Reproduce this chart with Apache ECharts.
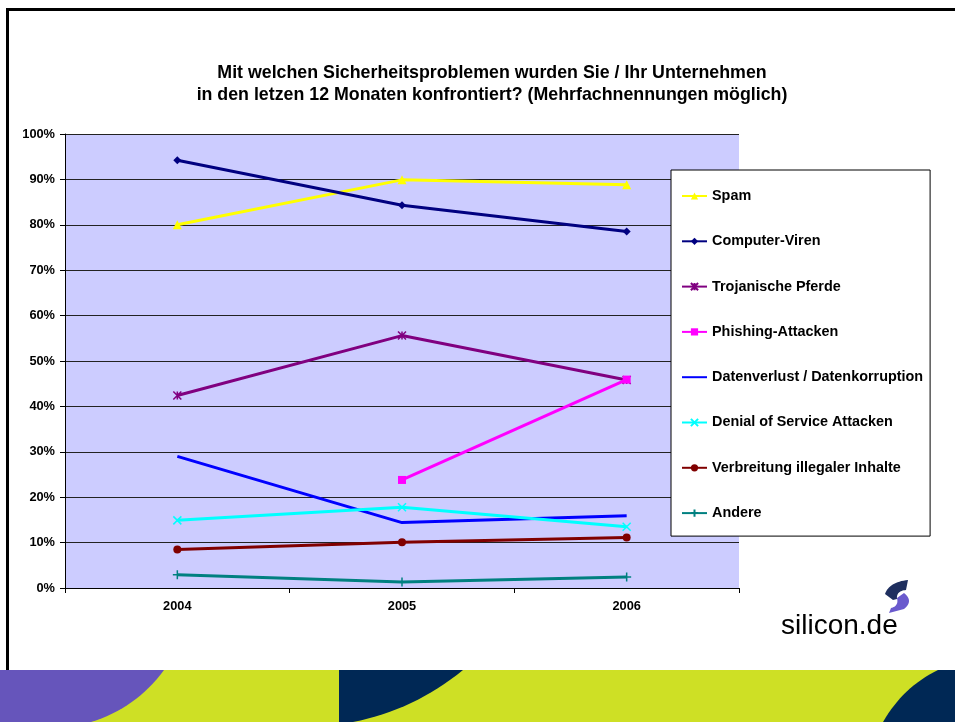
<!DOCTYPE html>
<html>
<head>
<meta charset="utf-8">
<script src="https://cdn.jsdelivr.net/npm/echarts@6/dist/echarts.min.js"></script>
<style>
  html, body { margin: 0; padding: 0; background: #fff; }
  #chart { width: 955px; height: 722px; }
</style>
</head>
<body>
<div id="chart"></div>
<script>
// Jahre und Werte (in %)
const years = ['2004', '2005', '2006']
const spam = [80, 89.9, 88.8]
const viren = [94.2, 84.3, 78.5]
const trojaner = [42.4, 55.6, 45.8]
const phishing = ['-', 23.8, 45.9]
const datenverlust = [29.0, 14.4, 15.9]
const dos = [14.9, 17.8, 13.5]
const verbreitung = [8.5, 10.1, 11.1]
const andere = [2.9, 1.3, 2.4]
const yTicks = [0, 10, 20, 30, 40, 50, 60, 70, 80, 90, 100]

const chart = echarts.init(document.getElementById('chart'))

// eigene Symbole
const xSym = 'path://M0,0L10,10M10,0L0,10'
const plusSym = 'path://M5,0L5,10M0,5L10,5'
const starSym = 'path://M0,0L10,10M10,0L0,10M5,0L5,10'

const mkSeries = (name, data, color, symbol, size, strokeOnly) => ({
  name,
  type: 'line',
  data,
  symbol,
  symbolSize: size,
  showSymbol: symbol !== 'none',
  connectNulls: false,
  lineStyle: { color, width: 3 },
  itemStyle: strokeOnly
    ? { color: 'transparent', borderColor: color, borderWidth: 1.5 }
    : { color, borderColor: color, borderWidth: 0 },
  emphasis: { disabled: true },
  z: 3,
})

// quadratische Kurve als Punktliste (nur Deko)
const quad = (p0, c, p1, n = 16) => {
  const pts = []
  for (let i = 0; i <= n; i++) {
    const t = i / n
    const a = (1 - t) * (1 - t), b = 2 * (1 - t) * t, d = t * t
    pts.push([a * p0[0] + b * c[0] + d * p1[0], a * p0[1] + b * c[1] + d * p1[1]])
  }
  return pts
}
const poly = (points, fill) => ({ type: 'polygon', silent: true, shape: { points }, style: { fill } })

const option = {
  animation: false,
  backgroundColor: '#fff',
  textStyle: { fontFamily: 'Arial, "Liberation Sans", sans-serif' },
  title: {
    text: 'Mit welchen Sicherheitsproblemen wurden Sie / Ihr Unternehmen\nin den letzen 12 Monaten konfrontiert? (Mehrfachnennungen möglich)',
    left: 487,
    top: 57,
    textAlign: 'center',
    textStyle: { fontSize: 17.8, fontWeight: 'bold', color: '#000', lineHeight: 22 },
  },
  grid: {
    left: 65,
    right: 216,
    top: 134,
    bottom: 134,
    show: true,
    backgroundColor: '#CCCCFF',
    borderWidth: 0,
  },
  legend: {
    orient: 'vertical',
    left: 671,
    top: 170,
    padding: [19, 7, 16, 10],
    itemWidth: 25,
    itemHeight: 9,
    itemGap: 31.3,
    backgroundColor: '#fff',
    borderColor: '#000',
    borderWidth: 1,
    textStyle: { fontSize: 14.4, fontWeight: 'bold', color: '#000', lineHeight: 14 },
    data: [
      'Spam', 'Computer-Viren', 'Trojanische Pferde', 'Phishing-Attacken',
      { name: 'Datenverlust / Datenkorruption', itemStyle: { opacity: 0 } },
      'Denial of Service Attacken', 'Verbreitung illegaler Inhalte', 'Andere',
    ],
  },
  xAxis: {
    type: 'category',
    data: years,
    boundaryGap: true,
    axisLine: { show: true, lineStyle: { color: '#000', width: 1 } },
    axisTick: { show: true, length: 5, inside: false, lineStyle: { color: '#000' } },
    axisLabel: { fontSize: 12.8, fontWeight: 'bold', color: '#000', margin: 12 },
    splitLine: { show: false },
  },
  yAxis: {
    type: 'value',
    min: yTicks[0],
    max: yTicks[yTicks.length - 1],
    interval: 10,
    axisLine: { show: true, lineStyle: { color: '#000', width: 1 } },
    axisTick: { show: true, length: 5, lineStyle: { color: '#000' } },
    axisLabel: { fontSize: 12.8, fontWeight: 'bold', color: '#000', margin: 10, formatter: '{value}%' },
    splitLine: { show: true, lineStyle: { color: '#222', width: 1 } },
  },
  series: [
    mkSeries('Spam', spam, '#FFFF00', 'triangle', 9),
    mkSeries('Computer-Viren', viren, '#000080', 'diamond', 8),
    mkSeries('Trojanische Pferde', trojaner, '#800080', starSym, 8, true),
    mkSeries('Phishing-Attacken', phishing, '#FF00FF', 'rect', 8),
    mkSeries('Datenverlust / Datenkorruption', datenverlust, '#0000FF', 'none', 0),
    mkSeries('Denial of Service Attacken', dos, '#00FFFF', xSym, 8, true),
    mkSeries('Verbreitung illegaler Inhalte', verbreitung, '#800000', 'circle', 8),
    mkSeries('Andere', andere, '#008080', plusSym, 9, true),
  ],
  graphic: [
    // Rahmen oben und links
    { type: 'line', silent: true, shape: { x1: 6, y1: 9.5, x2: 955, y2: 9.5 }, style: { stroke: '#000', lineWidth: 3 } },
    { type: 'line', silent: true, shape: { x1: 7.5, y1: 8, x2: 7.5, y2: 670 }, style: { stroke: '#000', lineWidth: 3 } },
    // Farbband unten
    { type: 'rect', silent: true, shape: { x: 0, y: 670, width: 955, height: 52 }, style: { fill: '#CEE025' } },
    poly([[0, 670], ...quad([164, 670], [136, 708], [91, 722]), [0, 722]], '#6655BB'),
    poly([[339, 670], ...quad([463, 670], [414, 710], [353, 722]), [339, 722]], '#002855'),
    poly([[955, 670], ...quad([938, 670], [903, 687], [883, 722]), [955, 722]], '#002855'),
    // Logo-Schwung
    poly([[908, 580], ...quad([908, 580], [889, 582], [885, 594]), [893, 600], ...quad([897, 599], [896, 591], [906, 590])], '#1F2F5F'),
    poly([[904, 593], ...quad([904, 593], [914, 601], [904, 609]), [889, 613], ...quad([891, 608], [899, 606], [897, 598])], '#6A5ACD'),
    {
      type: 'text',
      x: 781,
      y: 612,
      silent: true,
      style: {
        text: '{a|silicon}{b|.de}',
        rich: {
          a: { fontSize: 28, fontFamily: 'Arial, "Liberation Sans", sans-serif', color: '#1F2F5F' },
          b: { fontSize: 28, fontFamily: 'Arial, "Liberation Sans", sans-serif', color: '#6A5ACD' },
        },
      },
    },
  ],
}

chart.setOption(option)
</script>
</body>
</html>
